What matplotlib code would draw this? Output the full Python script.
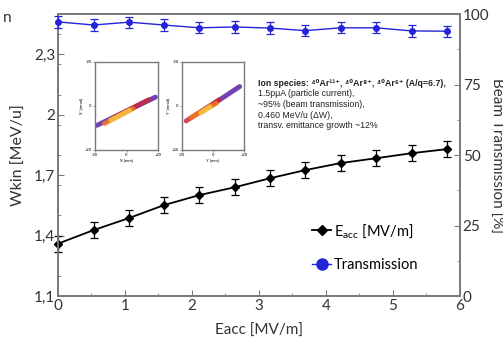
import matplotlib
matplotlib.use("Agg")
import matplotlib.pyplot as plt
from matplotlib.lines import Line2D
from matplotlib.ticker import MultipleLocator

plt.rcParams["font.family"] = ["Lato", "DejaVu Sans"]
plt.rcParams["mathtext.fontset"] = "custom"
plt.rcParams["mathtext.rm"] = "Lato"
plt.rcParams["mathtext.it"] = "Lato:italic"

# --- data ---
eacc = [0.0, 0.53, 1.06, 1.58, 2.11, 2.64, 3.17, 3.69, 4.22, 4.75, 5.28, 5.80]
wkin = [1.360, 1.427, 1.487, 1.551, 1.601, 1.640, 1.685, 1.725, 1.760, 1.784, 1.809, 1.829]
wkin_err = [0.04, 0.04, 0.04, 0.04, 0.04, 0.04, 0.04, 0.04, 0.04, 0.04, 0.04, 0.04]
transmission = [97.2, 96.1, 97.1, 96.1, 95.1, 95.4, 95.0, 94.1, 95.1, 95.1, 94.0, 93.9]
trans_err = [2.0, 2.0, 2.0, 2.0, 2.0, 2.0, 2.0, 2.0, 2.0, 2.0, 2.0, 2.0]

wkin_ticks = [1.1, 1.4, 1.7, 2.0, 2.3]
wkin_labels = ["1,1", "1,4", "1,7", "2", "2,3"]
trans_ticks = [0, 25, 50, 75, 100]

# phase-space insets: (x0, y0, x1, y1) segments per colour
phase_colors = ["#5b1fa8", "#c8283c", "#f07a1a", "#f5c542"]
phase_x = [(-18.8, -8.8, 18.4, 4.0), (-8.0, -5.2, 14.0, 2.8),
           (-14.0, -8.0, 4.0, -1.2), (-10.0, -6.4, 2.0, -2.0)]
phase_y = [(0.0, 0.8, 17.2, 8.8), (-17.4, -6.8, 4.0, 2.8),
           (-14.0, -5.2, 2.0, 1.2), (-8.0, -3.2, -2.0, -0.4)]

info_lines = [
    "1.5pμA (particle current),",
    "~95% (beam transmission),",
    "0.460 MeV/u (ΔW),",
    "transv. emittance growth ~12%",
]

spine_gray = "#7a7a7a"
blue = "#2424d8"

fig = plt.figure(figsize=(5.03, 3.44), dpi=100)
ax = fig.add_axes([0.1153, 0.1395, 0.7992, 0.8198])
ax2 = ax.twinx()

ax.errorbar(eacc, wkin, yerr=wkin_err, color="black", marker="D", ms=4.5,
            lw=1.3, elinewidth=0.9, capsize=3, capthick=0.9, clip_on=False, zorder=3)
ax2.errorbar(eacc, transmission, yerr=trans_err, color=blue, marker="o", ms=4,
             lw=1.0, elinewidth=0.9, capsize=3, capthick=0.9, clip_on=False, zorder=3)

ax.set_xlim(0, 6)
ax.set_ylim(1.1, 2.5)
ax2.set_ylim(0, 100)
ax.set_xticks(range(7))
ax.xaxis.set_minor_locator(MultipleLocator(0.5))
ax.set_yticks(wkin_ticks)
ax.set_yticklabels(wkin_labels)
ax.yaxis.set_minor_locator(MultipleLocator(0.15))
ax2.set_yticks(trans_ticks)
ax2.yaxis.set_minor_locator(MultipleLocator(12.5))

for a in (ax, ax2):
    for s in a.spines.values():
        s.set_color(spine_gray)
        s.set_linewidth(1.3)
    a.tick_params(which="both", direction="in", color=spine_gray, labelsize=11,
                  labelcolor="#333333", pad=2)
    a.tick_params(which="major", length=4)
    a.tick_params(which="minor", length=2.5)

ax.set_xlabel("Eacc [MV/m]", fontsize=11, color="#333333", labelpad=8)
ax.set_ylabel("Wkin [MeV/u]", fontsize=11.5, color="#333333", labelpad=6)
ax2.set_ylabel("Beam Transmission [%]", fontsize=11, color="#333333",
               rotation=270, labelpad=10)

handles = [
    Line2D([], [], color="black", marker="D", ms=5.5, lw=1.3),
    Line2D([], [], color=blue, marker="o", ms=8, lw=1.0),
]
ax.legend(handles, ["E$_{\\mathrm{acc}}$ [MV/m]", "Transmission"], frameon=False,
          loc="upper left", bbox_to_anchor=(0.6, 0.31), fontsize=10.5,
          handlelength=1.3, handletextpad=0.2, labelspacing=1.3)

# --- insets ---
insets = [
    ([0.189, 0.564, 0.125, 0.256], phase_x, "X [mm]", "X' [mrad]"),
    ([0.362, 0.564, 0.123, 0.256], phase_y, "Y [mm]", "Y' [mrad]"),
]
for pos, segs, xl, yl in insets:
    ia = fig.add_axes(pos)
    for (x0, y0, x1, y1), c in zip(segs, phase_colors):
        ia.plot([x0, x1], [y0, y1], color=c, lw=3.5, solid_capstyle="round", alpha=0.85)
    ia.set_xlim(-20, 20)
    ia.set_ylim(-20, 20)
    ia.set_xticks([-20, 0, 20])
    ia.set_xticklabels(["-20", "0", "+20"])
    ia.set_yticks([-20, 0, 20])
    ia.set_yticklabels(["+20", "0", "-20"])
    ia.tick_params(labelsize=3, length=1.5, width=0.5, pad=1, color=spine_gray)
    ia.set_xlabel(xl, fontsize=3, labelpad=1)
    ia.set_ylabel(yl, fontsize=3, labelpad=1)
    for s in ia.spines.values():
        s.set_color(spine_gray)
        s.set_linewidth(1.0)

# --- info text ---
txt_family = ["Liberation Sans", "DejaVu Sans"]
fig.text(258 / 503, 1 - 83 / 344,
         "Ion species: ⁴⁰Ar¹¹⁺, ⁴⁰Ar⁸⁺, ⁴⁰Ar⁶⁺ (A/q=6.7),",
         fontsize=6.3, fontweight="bold", family=txt_family, va="center", color="#222222")
fig.text(258 / 503, 1 - 89 / 344, "\n".join(info_lines), fontsize=6.3,
         family=txt_family, va="top", linespacing=1.25, color="#222222")

fig.text(0.006, 0.935, "n", fontsize=11, color="#333333")

fig.savefig("out.png", dpi=100)
plt.close(fig)
